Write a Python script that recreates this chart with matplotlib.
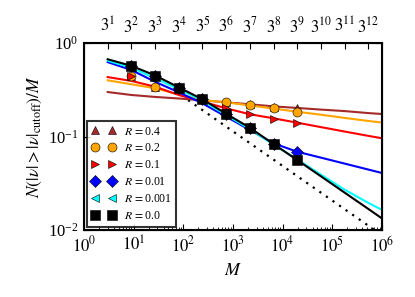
import numpy as np
import matplotlib
matplotlib.use("Agg")
import matplotlib.pyplot as plt
from matplotlib.ticker import LogLocator

plt.rcParams['font.family'] = ['Liberation Serif', 'DejaVu Serif']
plt.rcParams['mathtext.fontset'] = 'stix'

# ---- data ----
M_pts = [9, 27, 81, 243, 729, 2187, 6561, 19683]
pts_R04 = [0.44, 0.335, 0.33, 0.25, 0.235, 0.222, 0.207, 0.200]
pts_R02 = [0.44, 0.335, 0.33, 0.25, 0.236, 0.216, 0.200, 0.184]
pts_R01 = [0.44, 0.44, 0.33, 0.25, 0.203, 0.172, 0.153, 0.141]
pts_R001 = [0.567, 0.447, 0.333, 0.25, 0.174, 0.124, 0.083, 0.0687]
pts_R0001 = [0.567, 0.447, 0.333, 0.25, 0.174, 0.124, 0.083, 0.0556]
pts_R0 = [0.567, 0.447, 0.333, 0.25, 0.174, 0.124, 0.083, 0.0556]

M_line = [3, 9, 27, 81, 243, 729, 2187, 6561, 19683, 59049, 177147, 531441, 1e6]
line_R04 = [0.299, 0.278, 0.265, 0.255, 0.244, 0.232, 0.221, 0.210, 0.202, 0.194, 0.187, 0.178, 0.174]
line_R02 = [0.399, 0.362, 0.328, 0.282, 0.245, 0.232, 0.215, 0.199, 0.184, 0.171, 0.158, 0.1466, 0.141]
line_R01 = [0.432, 0.393, 0.341, 0.278, 0.236, 0.200, 0.173, 0.1565, 0.1405, 0.126, 0.113, 0.1016, 0.0957]
line_R001 = [0.625, 0.514, 0.385, 0.297, 0.226, 0.163, 0.1175, 0.0845, 0.0687, 0.0594, 0.0513, 0.0443, 0.0407]
line_R0001 = [0.647, 0.545, 0.42, 0.32, 0.242, 0.17, 0.12, 0.082, 0.057, 0.039, 0.027, 0.0195, 0.0164]
line_R0 = [0.67, 0.57, 0.45, 0.335, 0.25, 0.175, 0.124, 0.083, 0.056, 0.0375, 0.0251, 0.0168, 0.0133]

M_dot = [125, 1e6]
dot_vals = [0.245, 0.0088]

labels = ['$R\\,=$0.4', '$R\\,=$0.2', '$R\\,=$0.1', '$R\\,=$0.01', '$R\\,=$0.001', '$R\\,=$0.0']
colors = ['#a52a2a', 'orange', 'red', 'blue', 'cyan', 'black']
markers = ['^', 'o', '>', 'D', '<', 's']
msizes = [6, 6.5, 6, 6, 6, 6.5]
top_k = list(range(1, 13))
x_decades = [1, 10, 100, 1e3, 1e4, 1e5, 1e6]
x_ticklabels = ['$10^{%d}$' % k for k in range(7)]

fig = plt.figure(figsize=(4.15, 2.97), dpi=100)
ax = fig.add_axes([0.2024, 0.2256, 0.718, 0.6296])

lines = [line_R04, line_R02, line_R01, line_R001, line_R0001, line_R0]
pts = [pts_R04, pts_R02, pts_R01, pts_R001, pts_R0001, pts_R0]

ax.plot(M_dot, dot_vals, color='k', ls=(0, (1, 2.6)), lw=1.6)
for ln, c in zip(lines, colors):
    ax.plot(M_line, ln, color=c, lw=1.5)
for p, c, m, lab, ms in zip(pts, colors, markers, labels, msizes):
    ax.plot(M_pts, p, ls='none', marker=m, color=c, ms=ms, mec='k', mew=0.4, label=lab)

ax.set_xscale('log')
ax.set_yscale('log')
ax.set_xlim(1, 1e6)
ax.set_ylim(1e-2, 1)
ax.set_xticks(x_decades)
ax.set_xticklabels(x_ticklabels)
ax.xaxis.set_minor_locator(LogLocator(base=10, subs=np.arange(2, 10), numticks=20))
ax.set_xlabel('$M$', fontsize=13, labelpad=5)
ax.set_ylabel(r'$N(|\nu|>|\nu|_{\rm cutoff})/M$', fontsize=12.5, labelpad=3)
ax.tick_params(which='both', direction='in', right=True, top=False, labelsize=12)
ax.tick_params(which='major', length=4, width=0.8, pad=4)
ax.tick_params(which='minor', length=2, width=0.6)
for s in ax.spines.values():
    s.set_linewidth(1.5)

leg = ax.legend(loc='lower left', numpoints=2, fontsize=8.5, frameon=True, fancybox=False,
                labelspacing=0.42, handlelength=2.0, handletextpad=0.7, borderpad=0.4,
                borderaxespad=0.25)
leg.get_frame().set_edgecolor('k')
leg.get_frame().set_linewidth(1.5)

ax2 = ax.twiny()
ax2.set_xscale('log')
ax2.set_xlim(1, 1e6)
ax2.set_xticks([3 ** k for k in top_k])
ax2.set_xticklabels(['$3^{%d}$' % k for k in top_k])
ax2.minorticks_off()
ax2.tick_params(direction='in', labelsize=12, length=4, width=0.8, pad=5)

fig.savefig('out.png', dpi=100)
